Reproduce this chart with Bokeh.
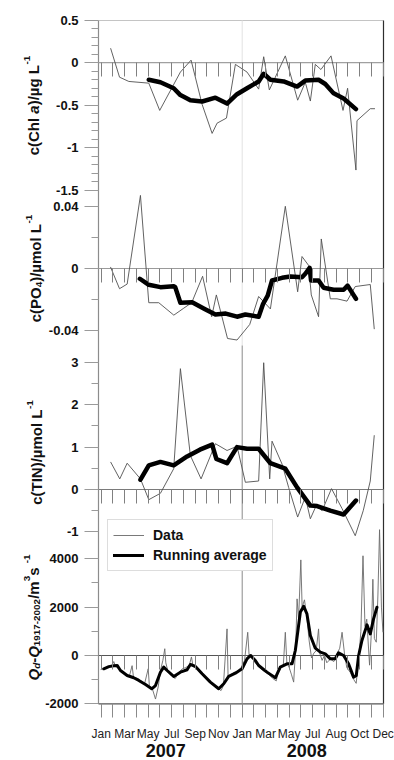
import math
from bokeh.plotting import figure
from bokeh.models import (Range1d, LinearAxis, FixedTicker, Label, Legend, LegendItem)
from bokeh.embed import file_html
from bokeh.resources import INLINE

# ---------------- data (x = months since Jan 2007) ----------------
MONTH_TICKS = list(range(25))
MONTH_LABELS = ["Jan", "Mar", "May", "Jul", "Sep", "Nov",
                "Jan", "Mar", "May", "Jul", "Aug", "Oct", "Dec"]
YEAR_TICKS = [5.5, 17.5]
YEAR_LABELS = ["2007", "2008"]

CHL_TICKS = [0.5, 0, -0.5, -1, -1.5]
CHL_TICK_LABELS = ["0.5", "0", "-0.5", "-1", "-1.5"]
CHL_MINOR = [0.4, 0.3, 0.2, 0.1, -0.1, -0.2, -0.3, -0.4, -0.6, -0.7, -0.8, -0.9,
             -1.1, -1.2, -1.3, -1.4]
PO4_TICKS = [0.04, 0, -0.04]
PO4_TICK_LABELS = ["0.04", "0", "-0.04"]
PO4_MINOR = [0.02, -0.02]
TIN_TICKS = [3, 2, 1, 0, -1]
TIN_TICK_LABELS = ["3", "2", "1", "0", "-1"]
TIN_MINOR = [2.5, 1.5, 0.5, -0.5]
Q_TICKS = [4000, 2000, 0, -2000]
Q_TICK_LABELS = ["4000", "2000", "0", "-2000"]
Q_MINOR = [3000, 1000, -1000]

CHL_X = [0.8, 1.56, 2.35, 4.05, 4.98, 6.74, 7.65, 8.59, 9.44, 9.86, 10.66, 11.42,
         12.41, 13.4, 13.83, 14.31, 15.67, 16.72, 17.37, 17.8, 18.22, 18.7, 19.56,
         20.58, 20.97, 21.68, 21.77, 22.9, 23.3]
CHL_Y = [0.17, -0.17, -0.22, -0.24, -0.56, -0.11, 0.03, -0.49, -0.83, -0.71, -0.65,
         -0.02, -0.11, -0.31, 0.07, -0.32, 0.08, -0.44, -0.23, -0.45, -0.02, -0.08,
         0.08, -0.56, -0.30, -1.26, -0.68, -0.54, -0.54]
CHL_AVG_X = [4.05, 5.04, 6.17, 6.74, 7.59, 8.59, 9.72, 10.71, 11.56, 12.41, 13.4,
             13.83, 14.4, 15.53, 16.67, 17.37, 18.5, 19.07, 19.78, 20.63, 21.68]
CHL_AVG_Y = [-0.20, -0.23, -0.30, -0.38, -0.44, -0.455, -0.41, -0.48, -0.37, -0.30,
             -0.22, -0.13, -0.20, -0.22, -0.28, -0.21, -0.20, -0.25, -0.36, -0.42,
             -0.545]

PO4_X = [0.79, 1.56, 2.21, 3.34, 4.05, 4.9, 6.18, 7.03, 7.7, 8.63, 9.4, 9.8, 10.75,
         11.56, 12.64, 13.4, 14.4, 15.67, 16.72, 17.09, 17.65, 17.88, 18.5, 18.73,
         19.5, 20.07, 20.92, 21.62, 22.9, 23.24]
PO4_Y = [0.001, -0.013, -0.010, 0.047, -0.022, -0.022, -0.030, -0.0255, -0.022,
         -0.005, -0.031, -0.017, -0.045, -0.046, -0.036, -0.018, -0.026, 0.040,
         -0.015, 0.0077, 0.002, -0.017, -0.031, 0.019, -0.0195, -0.0195, -0.021,
         -0.0116, -0.0103, -0.039]
PO4_AVG_X = [3.29, 4.05, 5.04, 6.17, 6.3, 6.74, 7.74, 8.8, 9.72, 10.6, 11.56, 12.27,
             13.4, 13.78, 14.17, 14.54, 15.39, 16.1, 17.09, 17.37, 17.74, 17.86,
             18.5, 18.93, 19.78, 20.63, 20.97, 21.68]
PO4_AVG_Y = [-0.0066, -0.0105, -0.012, -0.0114, -0.012, -0.022, -0.0217, -0.026,
             -0.0296, -0.029, -0.031, -0.0296, -0.031, -0.0227, -0.0174, -0.0077,
             -0.006, -0.0051, -0.0056, -0.0034, 0.0004, -0.0077, -0.0077, -0.0124,
             -0.0137, -0.0137, -0.011, -0.0195]

TIN_X = [0.8, 1.58, 2.21, 3.34, 4.05, 5.04, 6.17, 6.74, 7.59, 8.5, 9.72, 10.71,
         11.56, 12.27, 13.4, 13.83, 14.34, 14.54, 15.39, 15.95, 16.72, 17.37, 17.8,
         18.3, 18.8, 19.6, 20.5, 21.62, 22.3, 22.9, 23.24]
TIN_Y = [0.65, 0.25, 0.62, 0.25, -0.24, -0.09, 0.49, 2.85, 0.80, 0.25, 1.08, 0.92,
         1.02, 0.17, 0.20, 2.99, 0.25, 1.14, 0.60, 0.05, -0.65, -0.18, -0.69, -0.38,
         -0.50, 0.02, -0.45, -1.09, -0.50, 0.20, 1.28]
TIN_AVG_X = [3.34, 4.05, 5.04, 6.17, 7.31, 8.4, 9.44, 9.8, 10.71, 11.56, 12.41,
             13.4, 14.4, 15.67, 16.67, 17.8, 18.37, 19.5, 20.63, 21.68]
TIN_AVG_Y = [0.23, 0.57, 0.65, 0.57, 0.78, 0.94, 1.06, 0.72, 0.62, 1.00, 0.96, 0.96,
             0.62, 0.49, 0.05, -0.38, -0.39, -0.50, -0.59, -0.26]

Q_X = [-0.05, 0.3, 0.6, 0.9, 1.07, 1.2, 1.5, 1.8, 2.1, 2.4, 2.63, 2.75, 3.1, 3.4,
       3.7, 4.0, 4.1, 4.4, 4.62, 4.85, 5.05, 5.25, 5.41, 5.5, 5.7, 6.0, 6.3, 6.6,
       6.9, 7.2, 7.5, 7.68, 7.8, 8.1, 8.4, 8.7, 9.0, 9.3, 9.6, 9.9, 10.2, 10.4,
       10.71, 10.8, 11.0, 11.3, 11.6, 11.9, 12.2, 12.47, 12.6, 12.8, 13.1, 13.4,
       13.7, 14.0, 14.3, 14.6, 14.9, 15.1, 15.3, 15.5, 15.67, 15.8, 16.0, 16.2,
       16.38, 16.55, 16.67, 16.8, 16.99, 17.1, 17.3, 17.5, 17.7, 17.9, 18.1, 18.3,
       18.5, 18.6, 18.8, 19.0, 19.2, 19.5, 19.8, 20.1, 20.3, 20.5, 20.7, 20.9,
       21.2, 21.5, 21.7, 21.9, 22.1, 22.28, 22.45, 22.6, 22.84, 23.0, 23.12, 23.25,
       23.41, 23.55, 23.69, 23.85, 23.98]
Q_Y = [-580, -520, -480, -420, -250, -430, -560, -650, -800, -850, -420, -900, -950,
       -1050, -1150, -550, -1250, -1450, -1800, -1300, -600, -200, 280, -300, -700,
       -850, -950, -700, -550, -500, -400, -60, -400, -500, -700, -850, -1000,
       -1150, -1250, -1350, -1450, -1250, 1100, -900, -800, -700, -650, -500, -200,
       960, -100, 50, -300, -450, -600, -700, -800, -950, -1050, -600, -450, -400,
       960, -300, -500, -800, -1100, 300, 2340, 1500, 3950, 2000, 2300, 1600, 600,
       -100, 100, 200, 1100, 100, -200, 0, -300, -150, -250, 100, 300, 960, 100,
       -500, -700, -1000, -1150, -200, 1000, 4120, 1200, 1500, -400, 1000, 3150,
       700, 550, 2500, 5200, 2000, 960]
Q_AVG_X = [0.22, 0.65, 1.07, 1.36, 1.64, 2.21, 2.77, 3.2, 3.77, 4.3, 4.62, 5.04,
           5.32, 5.61, 6.17, 6.74, 7.31, 7.59, 8.02, 8.59, 9.29, 10.0, 10.43, 10.85,
           11.42, 11.99, 12.41, 12.7, 13.12, 13.4, 14.11, 14.82, 15.24, 15.81,
           16.24, 16.52, 16.95, 17.23, 17.51, 17.8, 18.22, 18.65, 19.07, 19.5,
           19.92, 20.2, 20.63, 21.05, 21.48, 21.71, 21.91, 22.19, 22.62, 22.9,
           23.18, 23.47]
Q_AVG_Y = [-550, -460, -420, -410, -620, -825, -920, -1030, -1200, -1375, -1240,
           -690, -480, -620, -866, -690, -590, -370, -454, -756, -1100, -1375,
           -1168, -866, -730, -550, -140, 0, -206, -412, -687, -921, -481, -344,
           -344, 206, 1800, 2030, 1718, 825, 302, 137, 69, -137, -137, 110, 0,
           -344, -893, -825, 0, 618, 1265, 893, 1512, 1993]

# ---------------- layout (pixel geometry of the page) ----------------
FONT = "Liberation Sans"
W, H = 394, 760
MONTH0_PX, PX_PER_MONTH = 100.7, 11.75
BOX_L, BOX_R, BOX_T, BOX_B = 98.0, 383.0, 20.0, 703.4   # plot box
PANEL34_SPLIT = 345.0


def mx(px):
    return (px - MONTH0_PX) / PX_PER_MONTH


X_START = mx(BOX_L)


def panel_range(zero_px, px_per_unit):
    return Range1d(start=(zero_px - H) / px_per_unit, end=zero_px / px_per_unit)


p = figure(width=W, height=H, output_backend="svg", toolbar_location=None,
           x_range=Range1d(mx(0), mx(W)), y_range=Range1d(H, 0),
           x_axis_location=None, y_axis_location=None, tools="")
p.min_border = 0
p.min_border_left = 0
p.min_border_right = 0
p.min_border_top = 0
p.min_border_bottom = 0
p.outline_line_color = None
p.background_fill_color = "white"
p.border_fill_color = "white"
p.grid.visible = False

p.extra_x_ranges = {"px": Range1d(0, W)}
p.extra_y_ranges = {
    "px": Range1d(H, 0),
    "chl": panel_range(62.2, 85.2),
    "po4": panel_range(268.0, 1555.0),
    "tin": panel_range(489.0, 42.4),
    "q": panel_range(655.0, 0.0242),
}

# plot box edges
p.segment(x0=[BOX_L], y0=[BOX_T], x1=[BOX_R], y1=[BOX_T], x_range_name="px",
          y_range_name="px", line_color="#c4c4c4", line_width=1.2)
p.segment(x0=[BOX_R], y0=[BOX_T], x1=[BOX_R], y1=[BOX_B], x_range_name="px",
          y_range_name="px", line_color="#2e2e2e", line_width=1.2)
p.segment(x0=[BOX_L], y0=[BOX_T], x1=[BOX_L], y1=[BOX_B], x_range_name="px",
          y_range_name="px", line_color="#8c8c8c", line_width=1.2)
p.segment(x0=[BOX_L], y0=[BOX_B], x1=[BOX_R], y1=[BOX_B], x_range_name="px",
          y_range_name="px", line_color="#555555", line_width=1.2)

# Jan 2008 divider (faint in upper panels, darker below)
p.segment(x0=[12], y0=[BOX_T], x1=[12], y1=[PANEL34_SPLIT], y_range_name="px",
          line_color="#e2e2e2", line_width=1)
p.segment(x0=[12], y0=[PANEL34_SPLIT], x1=[12], y1=[BOX_B], y_range_name="px",
          line_color="#8a8a8a", line_width=1)

# per-panel left axes, all drawn on the plot box's left edge
for name, ticks, labels, minors in [
        ("chl", CHL_TICKS, CHL_TICK_LABELS, CHL_MINOR),
        ("po4", PO4_TICKS, PO4_TICK_LABELS, PO4_MINOR),
        ("tin", TIN_TICKS, TIN_TICK_LABELS, TIN_MINOR),
        ("q", Q_TICKS, Q_TICK_LABELS, Q_MINOR)]:
    ax = LinearAxis(y_range_name=name, fixed_location=X_START,
                    ticker=FixedTicker(ticks=ticks, minor_ticks=minors))
    ax.major_label_overrides = dict(zip(ticks, labels))
    ax.axis_line_color = None
    ax.major_tick_line_color = "#9a9a9a"
    ax.minor_tick_line_color = "#9a9a9a"
    ax.major_tick_out = 14
    ax.major_tick_in = 0
    ax.minor_tick_out = 7
    ax.minor_tick_in = 0
    ax.major_label_standoff = 6
    ax.major_label_text_font = FONT
    ax.major_label_text_font_style = "bold"
    ax.major_label_text_font_size = "13px"
    ax.major_label_text_color = "#111111"
    p.add_layout(ax, "left")

# zero lines with monthly ticks hanging down
for name, lcol in [("chl", "#a0a0a0"), ("po4", "#9a9a9a"),
                   ("tin", "#7a7a7a"), ("q", "#555555")]:
    p.segment(x0=[X_START], y0=[0], x1=[mx(BOX_R)], y1=[0], y_range_name=name,
              line_color=lcol, line_width=1.2)
    z = LinearAxis(y_range_name=name, fixed_location=0,
                   ticker=FixedTicker(ticks=MONTH_TICKS, minor_ticks=[]))
    z.major_label_overrides = {t: "" for t in MONTH_TICKS}
    z.axis_line_color = None
    z.major_tick_line_color = "#808080"
    z.major_tick_out = 14
    z.major_tick_in = 0
    z.minor_tick_out = 0
    z.minor_tick_in = 0
    p.add_layout(z, "below")

# bottom month axis (at the plot box's bottom edge)
xa = LinearAxis(y_range_name="px", fixed_location=BOX_B,
                ticker=FixedTicker(ticks=MONTH_TICKS, minor_ticks=[]))
overrides = {t: "" for t in MONTH_TICKS}
for i, lab in enumerate(MONTH_LABELS):
    overrides[MONTH_TICKS[2 * i]] = lab
xa.major_label_overrides = overrides
xa.axis_line_color = None
xa.major_tick_line_color = "#8a8a8a"
xa.major_tick_out = 14
xa.major_tick_in = 0
xa.minor_tick_out = 0
xa.minor_tick_in = 0
xa.major_label_standoff = 9
xa.major_label_text_font = FONT
xa.major_label_text_font_size = "12px"
xa.major_label_text_color = "#222222"
p.add_layout(xa, "below")

# year labels
ya = LinearAxis(y_range_name="px", fixed_location=BOX_B,
                ticker=FixedTicker(ticks=YEAR_TICKS, minor_ticks=[]))
ya.major_label_overrides = dict(zip(YEAR_TICKS, YEAR_LABELS))
ya.axis_line_color = None
ya.major_tick_line_color = None
ya.major_tick_out = 0
ya.major_tick_in = 0
ya.minor_tick_out = 0
ya.minor_tick_in = 0
ya.major_label_standoff = 40
ya.major_label_text_font = FONT
ya.major_label_text_font_style = "bold"
ya.major_label_text_font_size = "18px"
ya.major_label_text_color = "#111111"
p.add_layout(ya, "below")

# ---------------- series ----------------
THIN = dict(line_color="#505050", line_width=0.9)
p.line(CHL_X, CHL_Y, y_range_name="chl", **THIN)
p.line(CHL_AVG_X, CHL_AVG_Y, y_range_name="chl", line_color="black",
       line_width=4.5, line_join="round", line_cap="round")
p.line(PO4_X, PO4_Y, y_range_name="po4", **THIN)
p.line(PO4_AVG_X, PO4_AVG_Y, y_range_name="po4", line_color="black",
       line_width=4.5, line_join="round", line_cap="round")
p.line(TIN_X, TIN_Y, y_range_name="tin", **THIN)
p.line(TIN_AVG_X, TIN_AVG_Y, y_range_name="tin", line_color="black",
       line_width=4.5, line_join="round", line_cap="round")
q_thin = p.line(Q_X, Q_Y, y_range_name="q", line_color="#6a6a6a", line_width=0.9)
q_avg = p.line(Q_AVG_X, Q_AVG_Y, y_range_name="q", line_color="black",
               line_width=3, line_join="round", line_cap="round")

legend = Legend(items=[LegendItem(label="Data", renderers=[q_thin]),
                       LegendItem(label="Running average", renderers=[q_avg])],
                location=(107, 189))
legend.label_text_font = FONT
legend.label_text_font_style = "bold"
legend.label_text_font_size = "14px"
legend.label_text_color = "#111111"
legend.border_line_color = "#bbbbbb"
legend.border_line_width = 1
legend.padding = 5
legend.spacing = 0
legend.margin = 0
legend.glyph_width = 31
legend.glyph_height = 20
legend.label_height = 20
legend.label_standoff = 9
legend.background_fill_color = "white"
legend.background_fill_alpha = 1
p.add_layout(legend)

# ---------------- rotated rich-text axis titles ----------------
CHAR_W = {'c': .556, '(': .333, ')': .333, 'C': .722, 'h': .611, 'l': .278,
          ' ': .278, 'a': .556, '/': .278, 'µ': .611, 'g': .611, 'L': .611,
          '-': .333, '1': .556, 'P': .667, 'O': .778, '4': .556, 'm': .889,
          'o': .611, 'T': .611, 'I': .278, 'N': .722, 'Q': .778, 'd': .611,
          '9': .556, '7': .556, '2': .556, '0': .556, '3': .556, 's': .556}


def text_width(s, size):
    return sum(CHAR_W.get(ch, 0.556) for ch in s) * size


def vtitle(segments, base_x, center_y, size=15.0):
    """Rotated title built from pieces; positions in page pixels."""
    small = round(size * 0.66, 1)
    pieces = []
    total = 0.0
    for txt, kind in segments:
        fs = size if kind in ("n", "i") else small
        w = text_width(txt, fs)
        pieces.append((txt, kind, fs, w))
        total += w
    y = center_y + total / 2
    for txt, kind, fs, w in pieces:
        dx = {"n": 0, "i": 0, "sub": 0.22 * size, "subi": 0.22 * size,
              "sup": -0.42 * size}[kind]
        style = "bold italic" if kind in ("i", "subi") else "bold"
        p.add_layout(Label(x=base_x + dx, y=y, x_range_name="px",
                           y_range_name="px", text=txt, angle=math.pi / 2,
                           text_align="left", text_baseline="alphabetic",
                           text_font=FONT, text_font_size=f"{fs}px",
                           text_font_style=style, text_color="#111111"))
        y -= w


vtitle([("c(Chl ", "n"), ("a", "i"), (")/µg L", "n"), ("-1", "sup")], 33, 105)
vtitle([("c(PO", "n"), ("4", "sub"), (")/µmol L", "n"), ("-1", "sup")], 35, 268)
vtitle([("c(TIN)/µmol L", "n"), ("-1", "sup")], 36, 452)
vtitle([("Q", "i"), ("d", "subi"), ("-", "n"), ("Q", "i"), ("1917-2002", "sub"),
        ("/m", "n"), ("3", "sup"), (" s", "n"), ("-1", "sup")], 33, 617)

open("out.html", "w").write(file_html(p, INLINE))
